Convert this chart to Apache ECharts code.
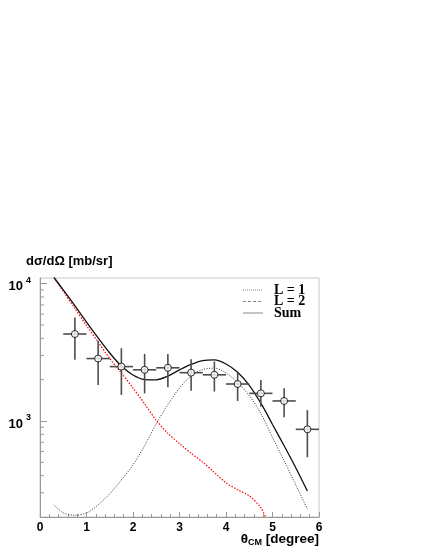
<!DOCTYPE html>
<html lang="en">
<head>
    <meta charset="UTF-8">
    <title>dsigma/dOmega</title>
    <script src="https://cdn.jsdelivr.net/npm/echarts/dist/echarts.min.js"></script>
    <style>
        body { margin: 0; padding: 0; background: #fff; }
        #chart { width: 431px; height: 557px; }
    </style>
</head>
<body>
<div id="chart"></div>
<script>
    // measured points (open circles with error bars)
    var thetaData = [0.75, 1.25, 1.75, 2.25, 2.75, 3.25, 3.75, 4.25, 4.75, 5.25, 5.75];
    var thetaErr  = [0.25, 0.25, 0.25, 0.25, 0.25, 0.25, 0.25, 0.25, 0.25, 0.25, 0.25];
    var sigmaData = [4300, 2850, 2490, 2360, 2440, 2250, 2170, 1860, 1590, 1400, 870];
    var sigmaLow  = [2790, 1830, 1550, 1590, 1760, 1660, 1640, 1400, 1270, 1065, 545];
    var sigmaHigh = [5680, 3840, 3390, 3080, 3070, 2820, 2710, 2290, 1990, 1730, 1200];

    // calculations
    var thetaCalc = [0.3, 0.5, 0.75, 1.0, 1.25, 1.5, 1.75, 2.0, 2.25, 2.5, 2.75, 3.0,
                     3.25, 3.5, 3.75, 4.0, 4.25, 4.5, 4.75, 5.0, 5.25, 5.5, 5.75];
    var sumCalc = [11090, 9016, 6918, 5248, 4027, 3126, 2512, 2163, 2004, 1995, 2123, 2355,
                   2582, 2754, 2786, 2600, 2265, 1820, 1349, 944, 661, 457, 309];
    var l1Calc  = [245, 214, 206, 214, 245, 295, 372, 479, 661, 955, 1318, 1738,
                   2138, 2371, 2427, 2239, 1905, 1531, 1135, 759, 513, 343, 229];
    var thetaL2 = [0.3, 0.5, 0.75, 1.0, 1.25, 1.5, 1.75, 2.0, 2.25, 2.5, 2.75, 3.0,
                   3.25, 3.5, 3.75, 4.0, 4.25, 4.5, 4.75, 4.85];
    var l2Calc  = [11090, 8810, 6610, 4955, 3760, 2851, 2239, 1738, 1334, 1012, 813, 684,
                   582, 501, 422, 355, 316, 285, 234, 200];

    var xTicks = [0, 1, 2, 3, 4, 5, 6];
    var yMinorTicks = [300, 400, 500, 600, 700, 800, 900,
                       2000, 3000, 4000, 5000, 6000, 7000, 8000, 9000];
    var legendNames = ['L = 1', 'L = 2', 'Sum'];

    function zip(xs, ys) {
        return xs.map(function (x, i) { return [x, ys[i]]; });
    }

    var points = thetaData.map(function (t, i) {
        return [t, sigmaData[i], sigmaLow[i], sigmaHigh[i], thetaErr[i]];
    });

    var chart = echarts.init(document.getElementById('chart'));
    var axisGray = '#999';

    // legend drawn by hand (ROOT style: sample line + serif bold text)
    var legendDash = [[1, 1], [3, 2], null];
    var legendGraphics = [];
    legendNames.forEach(function (name, i) {
        var y = 290 + i * 11.5;
        legendGraphics.push({
            type: 'line', silent: true,
            shape: { x1: 243, y1: y, x2: 263, y2: y },
            style: { stroke: '#888', lineWidth: 1, lineDash: legendDash[i] }
        });
        legendGraphics.push({
            type: 'text', silent: true, x: 274, y: y,
            style: {
                text: name, fill: '#000', textVerticalAlign: 'middle', verticalAlign: 'middle',
                font: 'bold 14px "Liberation Serif"'
            }
        });
    });

    var option = {
        backgroundColor: '#fff',
        animation: false,
        grid: {
            left: 40, top: 278, width: 279, height: 239,
            show: true, borderColor: '#c8c8c8', borderWidth: 1
        },
        xAxis: {
            type: 'value', min: 0, max: 6, interval: 1,
            axisLine: { lineStyle: { color: axisGray, width: 1 } },
            axisTick: { inside: true, length: 5, lineStyle: { color: axisGray } },
            minorTick: { show: true, splitNumber: 5, length: 3, lineStyle: { color: axisGray } },
            splitLine: { show: false },
            axisLabel: {
                margin: 5, color: '#000', fontFamily: 'Liberation Sans',
                fontWeight: 'bold', fontSize: 12,
                formatter: function (v) { return xTicks.indexOf(v) >= 0 ? String(v) : ''; }
            }
        },
        yAxis: {
            type: 'log', logBase: 10, min: 200, max: 11000,
            axisLine: { show: true, lineStyle: { color: axisGray, width: 1 } },
            axisTick: { inside: true, length: 7, lineStyle: { color: axisGray } },
            splitLine: { show: false },
            axisLabel: {
                margin: 9, color: '#000', showMinLabel: false, showMaxLabel: false,
                formatter: function (v) {
                    var e = Math.log10(v);
                    var r = Math.round(e);
                    if (Math.abs(e - r) < 1e-6 && (r === 3 || r === 4)) {
                        return '{b|10}{s|' + r + '}';
                    }
                    return '';
                },
                rich: {
                    b: { fontFamily: 'Liberation Sans', fontWeight: 'bold', fontSize: 13, color: '#000', padding: [6, 0, 0, 0] },
                    s: { fontFamily: 'Liberation Sans', fontWeight: 'bold', fontSize: 9, color: '#000', padding: [0, 0, 6, 3] }
                }
            }
        },
        graphic: [
            {
                type: 'text', left: 26, top: 255,
                style: {
                    text: 'dσ/dΩ [mb/sr]', fill: '#000',
                    font: 'bold 13px "Liberation Sans"'
                }
            },
            {
                type: 'text', right: 112, top: 532,
                style: {
                    text: '{t|θ}{s|CM}{t| [degree]}',
                    rich: {
                        t: { fontFamily: 'Liberation Sans', fontWeight: 'bold', fontSize: 13.5, fill: '#000', color: '#000' },
                        s: { fontFamily: 'Liberation Sans', fontWeight: 'bold', fontSize: 9, fill: '#000', color: '#000', padding: [7, 0, 0, 0] }
                    }
                }
            }
        ].concat(legendGraphics),
        series: [
            {
                name: 'L = 1', type: 'line', data: zip(thetaCalc, l1Calc),
                showSymbol: false, symbol: 'none', smooth: 0.3,
                itemStyle: { color: '#333' },
                lineStyle: { color: '#333', width: 1, type: [1, 1.5] }, z: 3
            },
            {
                name: 'L = 2', type: 'line', data: zip(thetaL2, l2Calc),
                showSymbol: false, symbol: 'none', smooth: 0.3,
                itemStyle: { color: '#ff0000' },
                lineStyle: { color: '#ff0000', width: 1.2, type: [1.5, 1.5] }, z: 3
            },
            {
                name: 'Sum', type: 'line', data: zip(thetaCalc, sumCalc),
                showSymbol: false, symbol: 'none', smooth: 0.3,
                itemStyle: { color: '#111' },
                lineStyle: { color: '#111', width: 1.3 }, z: 4
            },
            {
                name: 'errors', type: 'custom', data: points, z: 5,
                renderItem: function (params, api) {
                    var x = api.value(0), y = api.value(1);
                    var lo = api.coord([x, api.value(2)]);
                    var hi = api.coord([x, api.value(3)]);
                    var l = api.coord([x - api.value(4), y]);
                    var r = api.coord([x + api.value(4), y]);
                    var st = { stroke: '#4d4d4d', lineWidth: 1.6 };
                    return {
                        type: 'group',
                        children: [
                            { type: 'line', shape: { x1: lo[0], y1: lo[1], x2: hi[0], y2: hi[1] }, style: st },
                            { type: 'line', shape: { x1: l[0], y1: l[1], x2: r[0], y2: r[1] }, style: st }
                        ]
                    };
                }
            },
            {
                name: 'data', type: 'scatter', data: zip(thetaData, sigmaData), z: 6,
                symbol: 'circle', symbolSize: 7,
                itemStyle: { color: '#fff', borderColor: '#000', borderWidth: 1 }
            },
            {
                name: 'minor', type: 'custom', z: 7, silent: true,
                data: yMinorTicks.map(function (v) { return [0, v]; }),
                renderItem: function (params, api) {
                    var p = api.coord([api.value(0), api.value(1)]);
                    return {
                        type: 'line',
                        shape: { x1: p[0], y1: p[1], x2: p[0] + 4, y2: p[1] },
                        style: { stroke: axisGray, lineWidth: 1 }
                    };
                }
            }
        ]
    };

    chart.setOption(option);
</script>
</body>
</html>
